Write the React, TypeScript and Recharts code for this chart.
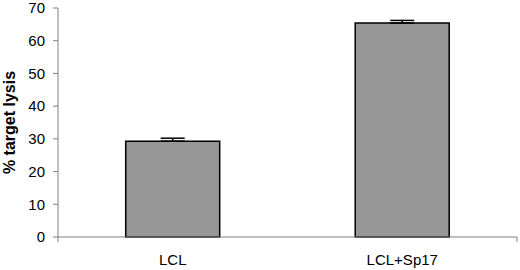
import React from 'react';
import { BarChart, Bar, XAxis, YAxis, ErrorBar, ReferenceLine } from 'recharts';

const categories = ['LCL', 'LCL+Sp17'];
const lysis = [29.3, 65.4];
const lysisErr = [0.9, 0.8];
const yTicks = [0, 10, 20, 30, 40, 50, 60, 70];
const edgeTicks = [0, 1, 2];

const data = categories.map((name, i) => ({
  name,
  value: lysis[i],
  err: [0, lysisErr[i]],
}));

const font = 'Arial, "Liberation Sans", sans-serif';

export default function App() {
  return (
    <div style={{ position: 'absolute', left: 0, top: 0, background: '#fff' }}>
      <BarChart width={520} height={270} data={data}
        margin={{ top: 8, right: 3, bottom: 0, left: 0 }} barCategoryGap="29.5%">
        <XAxis xAxisId="edges" type="number" domain={[0, 2]} hide />
        <XAxis xAxisId="cat" dataKey="name" height={33} tickLine={false} tickSize={0} tickMargin={17}
          axisLine={{ stroke: '#808080' }}
          tick={{ fill: '#000', fontSize: 15, fontFamily: font }} />
        <YAxis width={58} domain={[0, 70]} ticks={yTicks} interval={0}
          tickSize={5} tickMargin={8}
          axisLine={{ stroke: '#808080' }} tickLine={{ stroke: '#808080' }}
          tick={{ fill: '#000', fontSize: 15, fontFamily: font }}
          label={{ value: '% target lysis', angle: -90, position: 'insideLeft', offset: 9,
            style: { textAnchor: 'middle', fontSize: 16, fontWeight: 'bold', fontFamily: font, fill: '#000' } }} />
        {edgeTicks.map((t) => (
          <ReferenceLine key={t} xAxisId="edges" ifOverflow="visible"
            segment={[{ x: t, y: 0 }, { x: t, y: -1.5 }]} stroke="#808080" />
        ))}
        <Bar xAxisId="cat" dataKey="value" fill="#969696" stroke="#000" strokeWidth={1.5} isAnimationActive={false}>
          <ErrorBar dataKey="err" width={12} stroke="#000" strokeWidth={1.5} />
        </Bar>
      </BarChart>
    </div>
  );
}
